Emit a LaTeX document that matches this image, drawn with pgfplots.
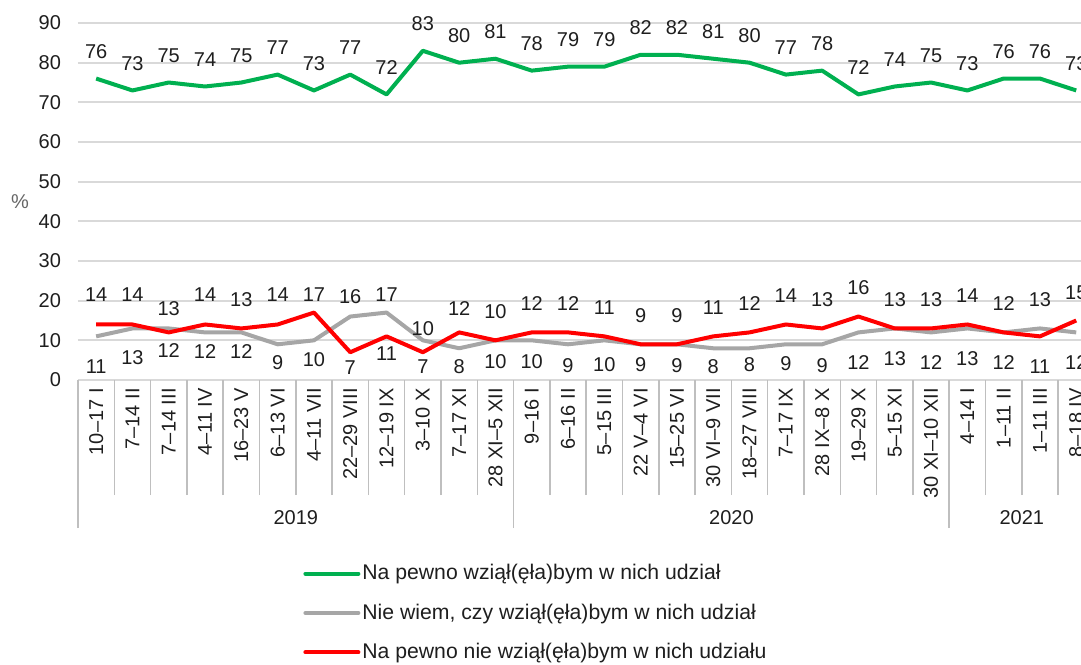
\documentclass[border=0pt]{standalone}
\usepackage{fontspec}
\setmainfont{Liberation Sans}
\usepackage{pgfplots}
\usepackage{pgfplotstable}
\pgfplotsset{compat=1.18}
\definecolor{cgreen}{HTML}{00B050}
\definecolor{cgray}{HTML}{A6A6A6}
\definecolor{cred}{HTML}{FF0000}
\definecolor{ctext}{HTML}{1E1E1E}

\pgfplotstableread{
x green gray red
0 76 11 14
1 73 13 14
2 75 13 12
3 74 12 14
4 75 12 13
5 77 9 14
6 73 10 17
7 77 16 7
8 72 17 11
9 83 10 7
10 80 8 12
11 81 10 10
12 78 10 12
13 79 9 12
14 79 10 11
15 82 9 9
16 82 9 9
17 81 8 11
18 80 8 12
19 77 9 14
20 78 9 13
21 72 12 16
22 74 13 13
23 75 12 13
24 73 13 14
25 76 12 12
26 76 13 11
27 73 12 15
}\datatable

\pgfplotstableread{
x top tl bot bl
0 21.43 14 3.28 11
1 21.43 14 5.55 13
2 17.90 13 7.31 12
3 21.43 14 7.06 12
4 20.17 13 7.06 12
5 21.43 14 4.29 9
6 21.43 17 5.04 10
7 20.92 16 3.02 7
8 21.43 17 6.55 11
9 12.86 10 3.28 7
10 17.90 12 3.28 8
11 17.14 10 4.54 10
12 19.16 12 4.54 10
13 19.16 12 3.53 9
14 18.15 11 3.78 10
15 16.13 9 3.78 9
16 16.13 9 3.53 9
17 18.15 11 3.28 8
18 19.16 12 3.78 8
19 21.17 14 4.03 9
20 20.17 13 3.53 9
21 23.19 16 4.29 12
22 20.17 13 5.29 13
23 20.17 13 4.29 12
24 21.17 14 5.29 13
25 19.16 12 4.29 12
26 20.17 13 3.28 11
27 21.93 15 4.29 12
}\lowlabels

\begin{document}
\begin{tikzpicture}[font=\fontsize{10}{12}\selectfont]
\begin{axis}[
  at={(0,0)}, anchor=south west,
  scale only axis,
  width=508.2pt, height=178.5pt,
  xmin=-0.5, xmax=27.5,
  ymin=0, ymax=90,
  ytick={0,10,...,90},
  xtick={0,...,27},
  xticklabels={{10–17 I},{7–14 II},{7–14 III},{4–11 IV},{16–23 V},{6–13 VI},{4–11 VII},{22–29 VIII},{12–19 IX},{3–10 X},{7–17 XI},{28 XI–5 XII},{9–16 I},{6–16 II},{5–15 III},{22 V–4 VI},{15–25 VI},{30 VI–9 VII},{18–27 VIII},{7–17 IX},{28 IX–8 X},{19–29 X},{5–15 XI},{30 XI–10 XII},{4–14 I},{1–11 II},{1–11 III},{8–18 IV}},
  minor xtick={-0.5,0.5,...,27.5},
  extra x ticks={-0.5,11.5,23.5,27.5},
  extra x tick labels={},
  extra x tick style={major tick length=74pt, every major tick/.append style={draw=black!25, line width=0.75pt}},
  major tick length=0pt,
  minor tick length=57.5pt,
  every minor tick/.append style={draw=black!25, line width=0.75pt},
  tick align=outside,
  xtick pos=bottom, ytick pos=left,
  axis line style={draw=none},
  ymajorgrids,
  grid style={draw=black!15, line width=1pt},
  /pgf/number format/assume math mode=true,
  yticklabel style={text=ctext, xshift=-5pt},
  xticklabel style={text=ctext, rotate=90, anchor=east, inner xsep=4pt},
  ylabel={\%},
  every axis y label/.style={at={(axis description cs:0,0.5)}, anchor=center, xshift=-29pt, text=black!60},
  clip=false,
  legend cell align=left,
  legend image code/.code={\draw[#1,line cap=round] (0pt,0pt) -- (26.5pt,0pt);},
  legend style={at={(0,0)}, anchor=north west, xshift=112.5pt, yshift=-91pt, draw=none, fill=none, inner sep=0pt, row sep=8.5pt, nodes={inner sep=1pt, text=ctext}, font=\fontsize{10.6}{12.7}\selectfont},
]
\addplot[cgreen, line width=2pt, line join=round, nodes near coords, point meta=explicit,
  every node near coord/.append style={anchor=center, yshift=13.4pt, text=ctext, font=\fontsize{10}{12}\selectfont}]
  table[x=x, y=green, meta=green] {\datatable};
\addlegendentry{Na pewno wziął(ęła)bym w nich udział}
\addplot[cgray, line width=2pt, line join=round] table[x=x, y=gray] {\datatable};
\addlegendentry{Nie wiem, czy wziął(ęła)bym w nich udział}
\addplot[cred, line width=2pt, line join=round] table[x=x, y=red] {\datatable};
\addlegendentry{Na pewno nie wziął(ęła)bym w nich udziału}
\addplot[draw=none, forget plot, nodes near coords, point meta=explicit symbolic,
  every node near coord/.append style={anchor=center, text=ctext, font=\fontsize{10}{12}\selectfont}]
  table[x=x, y=top, meta=tl] {\lowlabels};
\addplot[draw=none, forget plot, nodes near coords, point meta=explicit symbolic,
  every node near coord/.append style={anchor=center, text=ctext, font=\fontsize{10}{12}\selectfont}]
  table[x=x, y=bot, meta=bl] {\lowlabels};
\node[text=ctext] at (axis cs:5.5,0) [yshift=-69pt] {2019};
\node[text=ctext] at (axis cs:17.5,0) [yshift=-69pt] {2020};
\node[text=ctext] at (axis cs:25.5,0) [yshift=-69pt] {2021};
\end{axis}
\pgfresetboundingbox
\useasboundingbox (-39pt,-142pt) rectangle (501.5pt,190pt);
\end{tikzpicture}
\end{document}
